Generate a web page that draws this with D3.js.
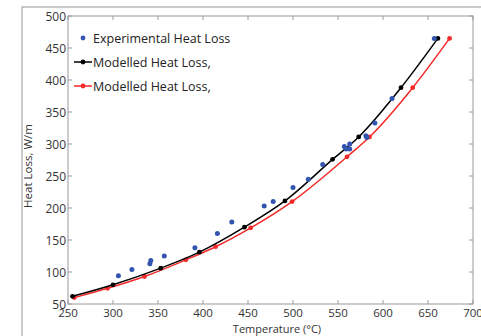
<!DOCTYPE html>
<html>
<head>
<meta charset="utf-8">
<script src="https://cdn.jsdelivr.net/npm/d3@7"></script>
<style>
  html, body { margin: 0; padding: 0; background: #fff; }
  svg { display: block; }
</style>
</head>
<body>
<div id="chart"></div>
<script>
// Heat loss vs temperature: experimental points + two modelled curves

const expT = [306, 321, 341, 342, 357, 391, 416, 432, 468, 478, 500, 517, 533, 557, 559, 563, 563, 581, 582, 591, 610, 657];
const expQ = [94, 104, 113, 118, 125, 138, 160, 178, 203, 210, 232, 245, 268, 296, 292, 300, 292, 313, 310, 333, 371, 465];

const modAT = [255, 300, 353, 396, 446, 491, 544, 573, 620, 661];
const modAQ = [62, 80, 106, 131, 170, 211, 276, 311, 388, 465];

const modBT = [257, 294, 335, 381, 414, 453, 499, 560, 585, 633, 674];
const modBQ = [60, 74.5, 93, 119, 139.5, 169, 210, 280, 311, 388, 465];

const xTicks = [250, 300, 350, 400, 450, 500, 550, 600, 650, 700];
const yTicks = [50, 100, 150, 200, 250, 300, 350, 400, 450, 500];

const legendLabels = ["Experimental Heat Loss", "Modelled Heat Loss,", "Modelled Heat Loss,"];

const W = 481, H = 336;
const m = { top: 16, right: 8, bottom: 32, left: 68 };
const iw = 473 - m.left;
const ih = 304 - m.top;

const FONT = "'Open Sans', 'DejaVu Sans', sans-serif";
const AXIS = "#9a9a9a";
const BLUE = "#3355b0";
const RED = "#f52a2a";

const x = d3.scaleLinear().domain([250, 700]).range([0, iw]);
const y = d3.scaleLinear().domain([50, 500]).range([ih, 0]);

const svg = d3.select("#chart").append("svg")
  .attr("width", W).attr("height", H)
  .attr("viewBox", `0 0 ${W} ${H}`);

// outer figure border (top + left)
svg.append("path")
  .attr("d", `M22,${H} L22,7 L${W},7`)
  .attr("fill", "none")
  .attr("stroke", "#b8b8b8")
  .attr("stroke-width", 1.5);

const g = svg.append("g").attr("transform", `translate(${m.left},${m.top})`);

// frame
g.append("rect")
  .attr("x", 0).attr("y", 0).attr("width", iw).attr("height", ih)
  .attr("fill", "none").attr("stroke", AXIS).attr("stroke-width", 1);

// inward ticks on all four sides
const tk = 4;
xTicks.forEach(t => {
  g.append("line").attr("x1", x(t)).attr("x2", x(t)).attr("y1", ih).attr("y2", ih - tk)
    .attr("stroke", AXIS);
  g.append("line").attr("x1", x(t)).attr("x2", x(t)).attr("y1", 0).attr("y2", tk)
    .attr("stroke", AXIS);
});
yTicks.forEach(t => {
  g.append("line").attr("x1", 0).attr("x2", tk).attr("y1", y(t)).attr("y2", y(t))
    .attr("stroke", AXIS);
  g.append("line").attr("x1", iw).attr("x2", iw - tk).attr("y1", y(t)).attr("y2", y(t))
    .attr("stroke", AXIS);
});

// tick labels
g.selectAll(".xl").data(xTicks).enter().append("text")
  .attr("x", d => x(d)).attr("y", ih + 13)
  .attr("text-anchor", "middle")
  .attr("font-family", FONT).attr("font-size", "11.5px").attr("fill", "#333")
  .text(d => d);

g.selectAll(".yl").data(yTicks).enter().append("text")
  .attr("x", -2).attr("y", d => y(d) + 4.5)
  .attr("text-anchor", "end")
  .attr("font-family", FONT).attr("font-size", "12px").attr("fill", "#333")
  .text(d => d);

// axis titles
svg.append("text")
  .attr("x", 277).attr("y", 333)
  .attr("text-anchor", "middle")
  .attr("font-family", FONT).attr("font-size", "11px").attr("fill", "#333")
  .text("Temperature (°C)");

svg.append("text")
  .attr("transform", "translate(32,166) rotate(-90)")
  .attr("text-anchor", "middle")
  .attr("font-family", FONT).attr("font-size", "11.5px").attr("fill", "#333")
  .text("Heat Loss, W/m");

// modelled curves
const line = d3.line().x(d => x(d[0])).y(d => y(d[1])).curve(d3.curveMonotoneX);

function series(T, Q, color) {
  const pts = T.map((t, i) => [t, Q[i]]);
  g.append("path").datum(pts)
    .attr("d", line)
    .attr("fill", "none").attr("stroke", color).attr("stroke-width", 1.5);
  g.selectAll(null).data(pts).enter().append("circle")
    .attr("cx", d => x(d[0])).attr("cy", d => y(d[1]))
    .attr("r", 2.4).attr("fill", color);
}

series(modBT, modBQ, RED);
series(modAT, modAQ, "#000");

// experimental points
g.selectAll(".exp").data(expT.map((t, i) => [t, expQ[i]])).enter().append("circle")
  .attr("cx", d => x(d[0])).attr("cy", d => y(d[1]))
  .attr("r", 2.5).attr("fill", BLUE);

// legend
const lg = svg.append("g");
const rows = [
  { y: 38, color: BLUE, line: false },
  { y: 62, color: "#000", line: true },
  { y: 86, color: RED, line: true }
];
rows.forEach((r, i) => {
  if (r.line) {
    lg.append("line").attr("x1", 74).attr("x2", 92).attr("y1", r.y).attr("y2", r.y)
      .attr("stroke", r.color).attr("stroke-width", 1.5);
  }
  lg.append("circle").attr("cx", 83).attr("cy", r.y).attr("r", 2.4).attr("fill", r.color);
  lg.append("text")
    .attr("x", 93).attr("y", r.y + 4.5)
    .attr("font-family", FONT).attr("font-size", "12.5px").attr("fill", "#222")
    .text(legendLabels[i]);
});
</script>
</body>
</html>
